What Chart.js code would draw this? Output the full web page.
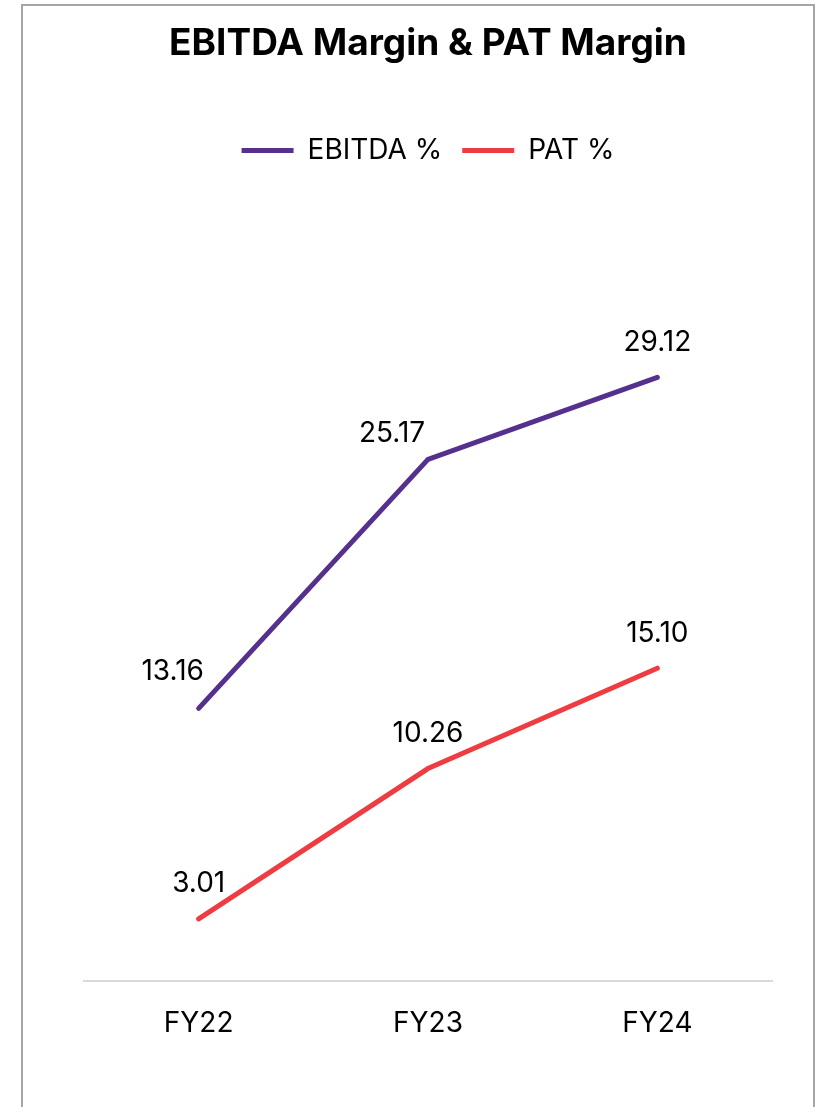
<!DOCTYPE html>
<html>
<head>
<meta charset="utf-8">
<script src="https://cdn.jsdelivr.net/npm/chart.js@4.4.0/dist/chart.umd.min.js"></script>
<style>
  html, body { margin: 0; padding: 0; background: #fff; }
  #frame { position: absolute; left: 21px; top: 4px; width: 790px; height: 1120px; border: 2px solid #a6a6a6; }
  #wrap { position: absolute; left: 0; top: 0; width: 828px; height: 1107px; }
</style>
</head>
<body>
<div id="frame"></div>
<div id="wrap"><canvas id="chart"></canvas></div>
<script>
// dados do gráfico
const years = ['FY22', 'FY23', 'FY24'];
const ebitdaPct = [13.16, 25.17, 29.12];
const patPct = [3.01, 10.26, 15.10];

const purple = '#55308d';
const red = '#ef3b42';
const fontName = 'Inter, "Open Sans", sans-serif';

// rótulos de valor em cima dos pontos
const valueLabels = {
  id: 'valueLabels',
  afterDatasetsDraw(chart) {
    const ctx = chart.ctx;
    ctx.save();
    ctx.font = '28px ' + fontName;
    ctx.fillStyle = '#000';
    ctx.textAlign = 'center';
    ctx.textBaseline = 'middle';
    chart.data.datasets.forEach((ds, i) => {
      const meta = chart.getDatasetMeta(i);
      meta.data.forEach((pt, j) => {
        const shift = (ds.labelShift && ds.labelShift[j]) || [0, -35];
        ctx.fillText(ds.data[j].toFixed(2), pt.x + shift[0], pt.y + shift[1]);
      });
    });
    ctx.restore();
  }
};

// espaço extra abaixo da legenda
const legendSpace = {
  id: 'legendSpace',
  beforeInit(chart) {
    const fit = chart.legend.fit;
    chart.legend.fit = function () {
      fit.call(this);
      this.height += 81;
    };
  }
};

const ctx = document.getElementById('chart');
new Chart(ctx, {
  type: 'line',
  data: {
    labels: years,
    datasets: [
      {
        label: 'EBITDA %',
        data: ebitdaPct,
        borderColor: purple,
        backgroundColor: purple,
        borderWidth: 5,
        pointRadius: 0,
        borderCapStyle: 'round',
        labelShift: [[-26, -37], [-36, -26], [0, -35]]
      },
      {
        label: 'PAT %',
        data: patPct,
        borderColor: red,
        backgroundColor: red,
        borderWidth: 5,
        pointRadius: 0,
        borderCapStyle: 'round'
      }
    ]
  },
  options: {
    responsive: true,
    maintainAspectRatio: false,
    animation: false,
    layout: { padding: { left: 84, right: 56, top: 22, bottom: 50 } },
    plugins: {
      title: {
        display: true,
        text: 'EBITDA Margin & PAT Margin',
        color: '#000',
        font: { family: fontName, size: 37, weight: 'bold' },
        padding: { top: 0, bottom: 50 }
      },
      legend: {
        position: 'top',
        labels: {
          color: '#000',
          font: { family: fontName, size: 28 },
          boxWidth: 52,
          boxHeight: 5,
          padding: 20,
          generateLabels(chart) {
            return chart.data.datasets.map((ds, i) => ({
              text: ds.label,
              fillStyle: ds.borderColor,
              strokeStyle: ds.borderColor,
              lineWidth: 0,
              fontColor: '#000',
              datasetIndex: i
            }));
          }
        }
      },
      tooltip: { enabled: false }
    },
    scales: {
      x: {
        offset: true,
        grid: { display: false },
        border: { color: '#d9d9d9', width: 2 },
        ticks: { color: '#000', font: { family: fontName, size: 28 }, padding: 17 }
      },
      y: {
        display: false,
        min: 0,
        max: 35
      }
    }
  },
  plugins: [valueLabels, legendSpace]
});
</script>
</body>
</html>
